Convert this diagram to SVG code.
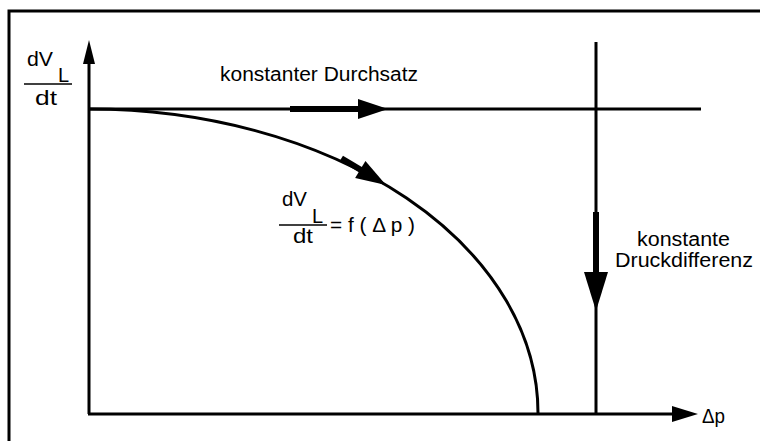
<svg xmlns="http://www.w3.org/2000/svg" width="760" height="441" viewBox="0 0 760 441">
<style>
.ln{stroke:#000;stroke-width:3;fill:none}
.t{font-family:"Liberation Sans",Arial,sans-serif;font-size:20px;fill:#000}
.ah{fill:#000}
</style>
<rect width="760" height="441" fill="#fff"/>
<g id="frame"><path class="ln" d="M9 441V11H760"/></g>
<g id="connectors">
<path class="ln" d="M89 414V60"/>
<polygon class="ah" points="89,40 83,64 95,64"/>
<path class="ln" d="M88 414H675"/>
<polygon class="ah" points="698,414 672,406 672,422"/>
<path class="ln" d="M89 109H701"/>
<rect x="290" y="106" width="70" height="6" class="ah"/>
<polygon class="ah" points="388,109 358,99 358,119"/>
<path class="ln" d="M596 42V414"/>
<rect x="593" y="212" width="6" height="62" class="ah"/>
<polygon class="ah" points="596,311 584,272 608,272"/>
<path class="ln" d="M89 109A449 304 0 0 1 538 413"/>
<g transform="translate(386,185) rotate(31)">
<rect x="-52" y="-3" width="26" height="6" class="ah"/>
<polygon class="ah" points="0,0 -30,-10 -30,10"/>
</g>
</g>
<g id="ylabel">
<text class="t" x="27" y="66" textLength="26" lengthAdjust="spacingAndGlyphs">dV</text>
<text class="t" x="58" y="82">L</text>
<path d="M24 84H72" stroke="#000" stroke-width="1.5"/>
<text class="t" x="35" y="105" textLength="22" lengthAdjust="spacingAndGlyphs">dt</text>
</g>
<g id="xlabel"><text class="t" x="702" y="423" textLength="23" lengthAdjust="spacingAndGlyphs">Δp</text></g>
<g id="durchsatz"><text class="t" x="220" y="81" textLength="198" lengthAdjust="spacingAndGlyphs">konstanter Durchsatz</text></g>
<g id="formula">
<text class="t" x="282" y="206" textLength="25" lengthAdjust="spacingAndGlyphs">dV</text>
<text class="t" x="312" y="223">L</text>
<path d="M279 225H327" stroke="#000" stroke-width="1.5"/>
<text class="t" x="293" y="243" textLength="20" lengthAdjust="spacingAndGlyphs">dt</text>
<text class="t" x="330" y="232" textLength="85" lengthAdjust="spacingAndGlyphs">= f ( Δ p )</text>
</g>
<g id="druck">
<text class="t" x="637" y="246" textLength="93" lengthAdjust="spacingAndGlyphs">konstante</text>
<text class="t" x="615" y="267" textLength="138" lengthAdjust="spacingAndGlyphs">Druckdifferenz</text>
</g>
</svg>
